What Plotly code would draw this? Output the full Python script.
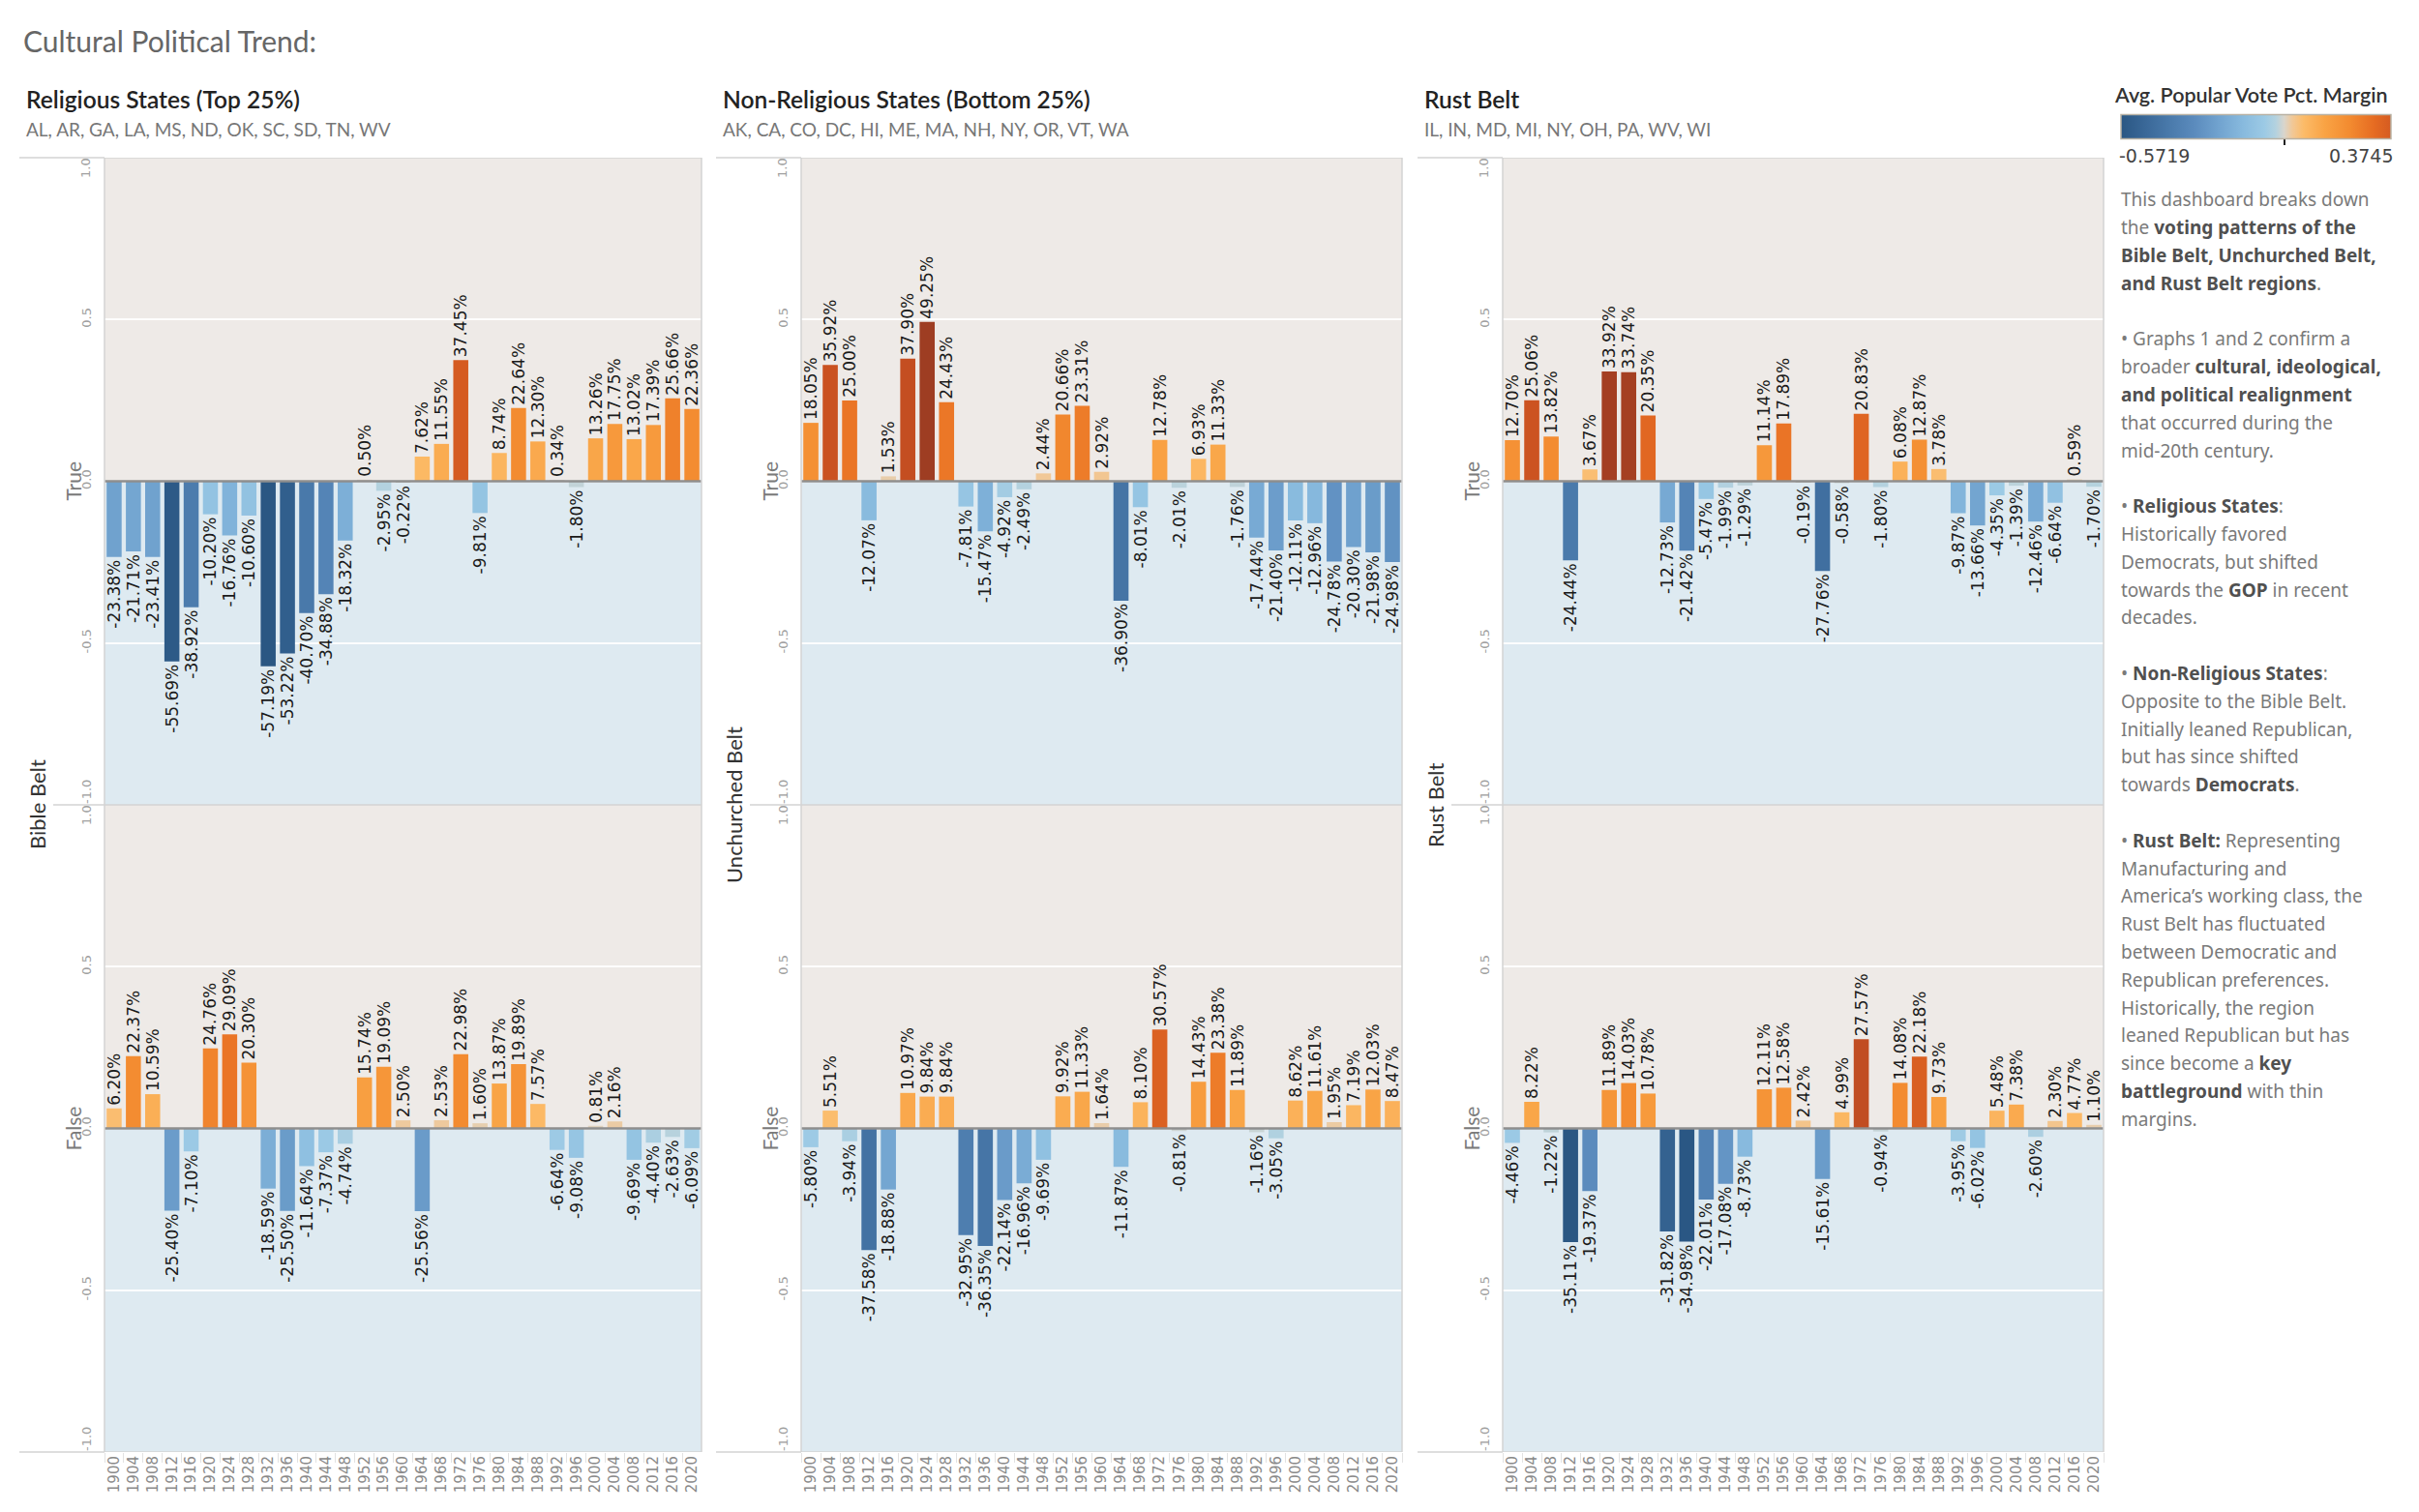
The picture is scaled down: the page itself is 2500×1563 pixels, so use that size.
import plotly.graph_objects as go

W, H = 2500, 1563

years = ["1900", "1904", "1908", "1912", "1916", "1920", "1924", "1928", "1932", "1936",
         "1940", "1944", "1948", "1952", "1956", "1960", "1964", "1968", "1972", "1976",
         "1980", "1984", "1988", "1992", "1996", "2000", "2004", "2008", "2012", "2016", "2020"]

# Avg. popular vote pct. margin (percent)
bible_true = [-23.38, -21.71, -23.41, -55.69, -38.92, -10.20, -16.76, -10.60, -57.19, -53.22,
              -40.70, -34.88, -18.32, 0.50, -2.95, -0.22, 7.62, 11.55, 37.45, -9.81,
              8.74, 22.64, 12.30, 0.34, -1.80, 13.26, 17.75, 13.02, 17.39, 25.66, 22.36]
bible_false = [6.20, 22.37, 10.59, -25.40, -7.10, 24.76, 29.09, 20.30, -18.59, -25.50,
               -11.64, -7.37, -4.74, 15.74, 19.09, 2.50, -25.56, 2.53, 22.98, 1.60,
               13.87, 19.89, 7.57, -6.64, -9.08, 0.81, 2.16, -9.69, -4.40, -2.63, -6.09]
unch_true = [18.05, 35.92, 25.00, -12.07, 1.53, 37.90, 49.25, 24.43, -7.81, -15.47,
             -4.92, -2.49, 2.44, 20.66, 23.31, 2.92, -36.90, -8.01, 12.78, -2.01,
             6.93, 11.33, -1.76, -17.44, -21.40, -12.11, -12.96, -24.78, -20.30, -21.98, -24.98]
unch_false = [-5.80, 5.51, -3.94, -37.58, -18.88, 10.97, 9.84, 9.84, -32.95, -36.35,
              -22.14, -16.96, -9.69, 9.92, 11.33, 1.64, -11.87, 8.10, 30.57, -0.81,
              14.43, 23.38, 11.89, -1.16, -3.05, 8.62, 11.61, 1.95, 7.19, 12.03, 8.47]
rust_true = [12.70, 25.06, 13.82, -24.44, 3.67, 33.92, 33.74, 20.35, -12.73, -21.42,
             -5.47, -1.99, -1.29, 11.14, 17.89, -0.19, -27.76, -0.58, 20.83, -1.80,
             6.08, 12.87, 3.78, -9.87, -13.66, -4.35, -1.39, -12.46, -6.64, 0.59, -1.70]
rust_false = [-4.46, 8.22, -1.22, -35.11, -19.37, 11.89, 14.03, 10.78, -31.82, -34.98,
              -22.01, -17.08, -8.73, 12.11, 12.58, 2.42, -15.61, 4.99, 27.57, -0.94,
              14.08, 22.18, 9.73, -3.95, -6.02, 5.48, 7.38, -2.60, 2.30, 4.77, 1.10]

panel_titles = ["Religious States (Top 25%)", "Non-Religious States (Bottom 25%)", "Rust Belt"]
panel_states = ["AL, AR, GA, LA, MS, ND, OK, SC, SD, TN, WV",
                "AK, CA, CO, DC, HI, ME, MA, NH, NY, OR, VT, WA",
                "IL, IN, MD, MI, NY, OH, PA, WV, WI"]
row_headers = ["Bible Belt", "Unchurched Belt", "Rust Belt"]
y_tickvals = [-0.5, 0, 0.5]
y_ticktext = ["-0.5", "0.0", "0.5"]
y_end_ticks = [(1, "1.0"), (-1, "-1.0")]

panels = [(bible_true, bible_false), (unch_true, unch_false), (rust_true, rust_false)]

# ---------- styling ----------
PAL = [(-1.00, '#2a5783'), (-0.85, '#3a6898'), (-0.70, '#4a7aab'), (-0.55, '#5b8bbd'),
       (-0.40, '#71a3cf'), (-0.25, '#88bade'), (-0.12, '#9ccae5'), (-0.05, '#b4d2df'),
       (0.00, '#d9d5cc'), (0.05, '#f1c897'), (0.12, '#fcbb68'), (0.25, '#f9a344'),
       (0.40, '#f38b30'), (0.55, '#e66c22'), (0.70, '#ce5421'), (0.85, '#b84822'),
       (1.00, '#9e3d22')]


def hex2rgb(h):
    h = h.lstrip('#')
    return tuple(int(h[i:i + 2], 16) for i in (0, 2, 4))


def pal_at(t):
    for (t0, c0), (t1, c1) in zip(PAL[:-1], PAL[1:]):
        if t0 <= t <= t1:
            f = 0 if t1 == t0 else (t - t0) / (t1 - t0)
            a, b = hex2rgb(c0), hex2rgb(c1)
            r = [round(a[i] + (b[i] - a[i]) * f) for i in range(3)]
            return 'rgb(%d,%d,%d)' % tuple(r)
    return PAL[-1][1] if t > 0 else PAL[0][1]


def scale_for(cmin, cmax, cabs):
    tmin, tmax = cmin / cabs, cmax / cabs
    ts = [tmin] + [t for t, _ in PAL if tmin < t < tmax] + [tmax]
    return [[(t * cabs - cmin) / (cmax - cmin), pal_at(t)] for t in ts]


x_px = [(108, 725), (828, 1449), (1553, 2174)]
y_top = (163, 832)
y_bot = (832, 1501)
TICKFONT = dict(family='DejaVu Sans', size=13, color='#a0a0a0')


def fx(px):
    return px / W


def fy(py):
    return 1 - py / H


fig = go.Figure()
layout = dict(width=W, height=H, margin=dict(l=0, r=0, t=0, b=0, autoexpand=False),
              paper_bgcolor='white', plot_bgcolor='white', showlegend=False,
              bargap=0.22, shapes=[], annotations=[])

for c, (tv, fv) in enumerate(panels):
    allv = [v / 100 for v in tv + fv]
    cmin, cmax = min(allv), max(allv)
    cabs = max(abs(cmin), abs(cmax))
    ca = 'coloraxis' if c == 0 else 'coloraxis%d' % (c + 1)
    if c == 0:
        layout[ca] = dict(cmin=cmin, cmax=cmax, colorscale=scale_for(cmin, cmax, cabs), showscale=True,
                          colorbar=dict(orientation='h', x=fx((2192 + 2471) / 2), xanchor='center',
                                        y=fy(151), yanchor='bottom', len=279, lenmode='pixels',
                                        thickness=25, thicknessmode='pixels', outlinecolor='#b9b2a4',
                                        outlinewidth=1.5, tickvals=[0], ticks='outside', ticklen=6,
                                        tickcolor='#222', tickwidth=1.5, showticklabels=False,
                                        xpad=0, ypad=0))
        layout['annotations'] += [
            dict(x=fx(2188), y=fy(161), xref='paper', yref='paper', xanchor='left', yanchor='middle',
                 showarrow=False, text='%.4f' % cmin, font=dict(family='DejaVu Sans', size=19, color='#444')),
            dict(x=fx(2475), y=fy(161), xref='paper', yref='paper', xanchor='right', yanchor='middle',
                 showarrow=False, text='%.4f' % cmax, font=dict(family='DejaVu Sans', size=19, color='#444')),
        ]
    else:
        layout[ca] = dict(cmin=-cabs, cmax=cabs, colorscale=scale_for(-cabs, cabs, cabs), showscale=False)

    for r, vals in enumerate((tv, fv)):
        k = c * 2 + r + 1
        xn = 'x' if k == 1 else 'x%d' % k
        yn = 'y' if k == 1 else 'y%d' % k
        ys = [v / 100 for v in vals]
        fig.add_trace(go.Bar(
            x=years, y=ys, xaxis=xn, yaxis=yn,
            marker=dict(color=ys, coloraxis=ca, line=dict(width=0)),
            texttemplate='%{y:.2%}', textposition='outside', textangle=-90,
            textfont=dict(family='DejaVu Sans', size=17, color='#1a1a1a'),
            constraintext='none', cliponaxis=False, hoverinfo='skip'))
        yr = y_top if r == 0 else y_bot
        layout['xaxis' if k == 1 else 'xaxis%d' % k] = dict(
            domain=[fx(x_px[c][0]), fx(x_px[c][1])], anchor=yn, type='category',
            categoryorder='array', categoryarray=years, range=[-0.5, len(years) - 0.5],
            showgrid=False, zeroline=False, showline=False,
            showticklabels=(r == 1), tickangle=-90,
            tickfont=dict(family='DejaVu Sans', size=15, color='#8a8a8a'),
            ticks='outside' if r == 1 else '', tickson='boundaries', ticklen=10,
            tickcolor='#e2e2e2', fixedrange=True)
        layout['yaxis' if k == 1 else 'yaxis%d' % k] = dict(
            domain=[fy(yr[1]), fy(yr[0])], anchor=xn, range=[-1, 1],
            tickvals=y_tickvals, ticktext=y_ticktext, tickangle=-90, tickfont=TICKFONT,
            showgrid=True, gridcolor='rgba(255,255,255,0.9)', gridwidth=1.5,
            zeroline=False, showline=False, ticks='', ticklabelstandoff=10, fixedrange=True)
        # end tick labels, pushed inward like the reference
        for val, lab in y_end_ticks:
            half = 11 if lab == "1.0" else 13
            py = yr[0] + half if val == 1 else yr[1] - half
            layout['annotations'].append(dict(
                x=fx(x_px[c][0] - 19), y=fy(py), xref='paper', yref='paper', text=lab,
                textangle=-90, showarrow=False, xanchor='center', yanchor='middle', font=TICKFONT))
        xd = xn + ' domain'
        layout['shapes'] += [
            dict(type='rect', xref=xd, yref=yn, x0=0, x1=1, y0=0, y1=1, fillcolor='#eeeae7',
                 line=dict(width=0), layer='below'),
            dict(type='rect', xref=xd, yref=yn, x0=0, x1=1, y0=-1, y1=0, fillcolor='#deeaf1',
                 line=dict(width=0), layer='below'),
            dict(type='line', xref=xd, yref=yn, x0=0, x1=1, y0=0, y1=0,
                 line=dict(color='#8e8e8e', width=2.5), layer='above'),
            dict(type='rect', xref=xd, yref=yn, x0=0, x1=1, y0=-1, y1=1,
                 line=dict(color='#d3d3d3', width=1.5), fillcolor='rgba(0,0,0,0)', layer='above'),
        ]
        # row label True / False
        layout['annotations'].append(dict(
            x=fx(x_px[c][0] - 33), y=fy((yr[0] + yr[1]) / 2), xref='paper', yref='paper',
            text='True' if r == 0 else 'False', textangle=-90, showarrow=False,
            xanchor='center', yanchor='middle', font=dict(family='Lato', size=21, color='#7a7a7a')))

    # header lines to the left of the panes
    L = x_px[c][0]
    for py, x0 in ((163, L - 88), (832, L - 53), (1501, L - 88)):
        layout['shapes'].append(dict(type='line', xref='paper', yref='paper', x0=fx(x0), x1=fx(L),
                                     y0=fy(py), y1=fy(py), line=dict(color='#d3d3d3', width=1.5)))
    # row header
    layout['annotations'].append(dict(
        x=fx(L - 70), y=fy(832), xref='paper', yref='paper', text=row_headers[c], textangle=-90,
        showarrow=False, xanchor='center', yanchor='middle',
        font=dict(family='Lato', size=22, color='#333333')))
    # panel titles
    tx = [25, 745, 1470][c]
    layout['annotations'] += [
        dict(x=fx(tx), y=fy(102), xref='paper', yref='paper', text=panel_titles[c], showarrow=False,
             xanchor='left', yanchor='middle', font=dict(family='Lato', size=24.5, color='#222', weight=600)),
        dict(x=fx(tx), y=fy(133), xref='paper', yref='paper', text=panel_states[c], showarrow=False,
             xanchor='left', yanchor='middle', font=dict(family='Lato', size=19, color='#777')),
    ]

# main title
layout['annotations'].append(dict(
    x=fx(22), y=fy(42), xref='paper', yref='paper', text='Cultural Political Trend:', showarrow=False,
    xanchor='left', yanchor='middle', font=dict(family='Lato', size=30, color='#666')))

# legend title
layout['annotations'].append(dict(
    x=fx(2183), y=fy(98), xref='paper', yref='paper', text='Avg. Popular Vote Pct. Margin',
    showarrow=False, xanchor='left', yanchor='middle',
    font=dict(family='Lato', size=21.5, color='#333', weight=600)))

# description text
desc = {
    0: "This dashboard breaks down",
    1: "the <b>voting patterns of the</b>",
    2: "<b>Bible Belt, Unchurched Belt,</b>",
    3: "<b>and Rust Belt regions</b>.",
    5: "• Graphs 1 and 2 confirm a",
    6: "broader <b>cultural, ideological,</b>",
    7: "<b>and political realignment</b>",
    8: "that occurred during the",
    9: "mid-20th century.",
    11: "• <b>Religious States</b>:",
    12: "Historically favored",
    13: "Democrats, but shifted",
    14: "towards the <b>GOP</b> in recent",
    15: "decades.",
    17: "• <b>Non-Religious States</b>:",
    18: "Opposite to the Bible Belt.",
    19: "Initially leaned Republican,",
    20: "but has since shifted",
    21: "towards <b>Democrats</b>.",
    23: "• <b>Rust Belt:</b> Representing",
    24: "Manufacturing and",
    25: "America’s working class, the",
    26: "Rust Belt has fluctuated",
    27: "between Democratic and",
    28: "Republican preferences.",
    29: "Historically, the region",
    30: "leaned Republican but has",
    31: "since become a <b>key</b>",
    32: "<b>battleground</b> with thin",
    33: "margins.",
}
for i, line in desc.items():
    txt = line.replace('<b>', "<b><span style='color:#505050'>").replace('</b>', '</span></b>')
    layout['annotations'].append(dict(
        x=fx(2190), y=fy(206.4 + 28.8 * i), xref='paper', yref='paper', text=txt, showarrow=False,
        xanchor='left', yanchor='middle', align='left',
        font=dict(family='Noto Sans', size=19, color='#7a7a7a')))

fig.update_layout(**layout)
fig.write_html("out.html", post_script="document.body.style.margin='0px';",
               config={'displayModeBar': False})
